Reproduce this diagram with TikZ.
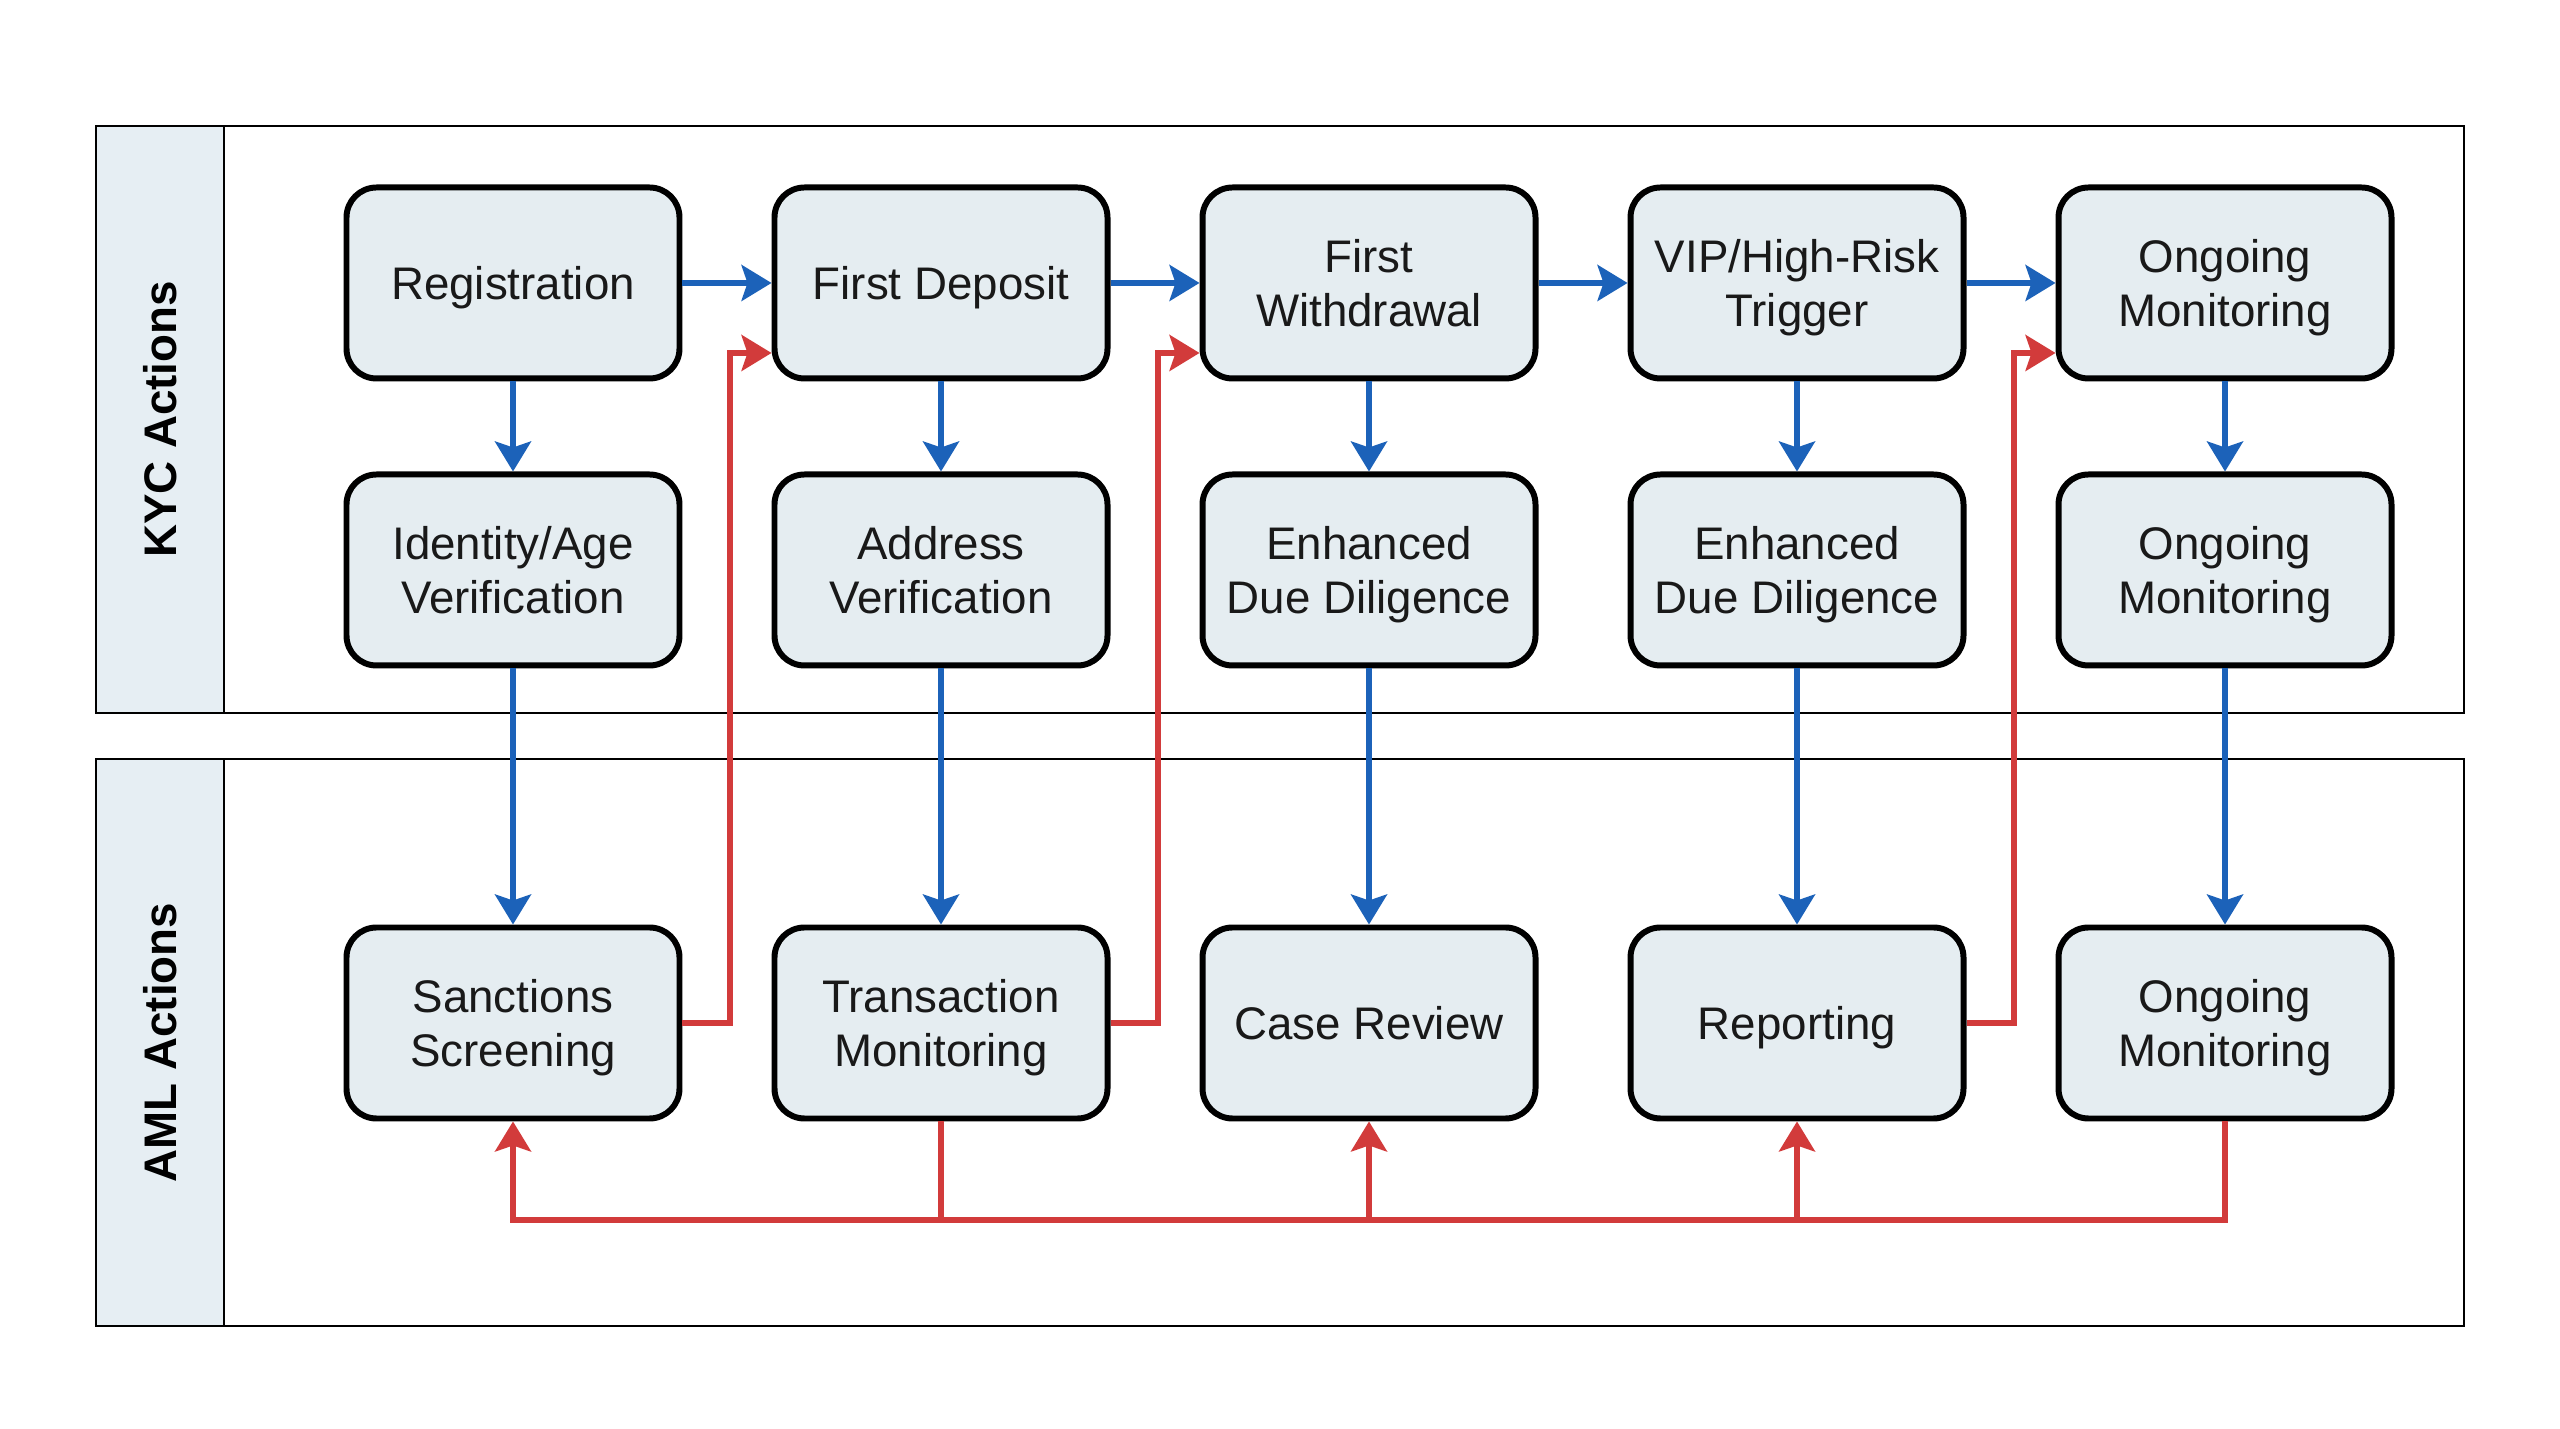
\documentclass[tikz,border=0pt]{standalone}
\usepackage{fontspec}
\setmainfont{Liberation Sans}
\usetikzlibrary{arrows.meta}
\definecolor{boxfill}{HTML}{E5EDF1}
\definecolor{lanefill}{HTML}{E6EEF3}
\definecolor{flowblue}{HTML}{1C62B9}
\definecolor{flowred}{HTML}{D23B3B}

\begin{document}
\begin{tikzpicture}[font=\fontsize{13}{15.5}\selectfont,
  stage/.style={draw=black,line width=1.7pt,fill=boxfill,rounded corners=0.3cm,
    minimum width=3.33cm,minimum height=1.91cm,align=center,inner sep=0pt,
    text depth=0pt,text=black!90},
  tip/.style={-{Stealth[length=0.3cm,width=0.36cm,inset=0.06cm]}},
  bluearrow/.style={flowblue,line width=1.5pt,tip},
  redline/.style={flowred,line width=1.5pt},
  redarrow/.style={redline,tip}]
  \useasboundingbox (0,0) rectangle (25.6,14.29);
  \fill[white] (0,0) rectangle (25.6,14.29);
  % swim lanes
  \foreach \n/\yt/\yb/\lbl in {1/13.03/7.16/KYC Actions, 2/6.70/1.03/AML Actions} {
    \fill[lanefill] (0.96,\yb) rectangle (2.24,\yt);
    \draw[line width=0.7pt] (0.96,\yb) rectangle (24.64,\yt);
    \draw[line width=0.7pt] (2.24,\yb) -- (2.24,\yt);
    \node[rotate=90,font=\fontsize{13}{15}\selectfont\bfseries] (lane\n) at (1.60,{(\yt+\yb)/2}) {\lbl};
  }

  % events
  \node[stage] (ev1) at (5.13,11.46) {Registration};
  \node[stage] (ev2) at (9.41,11.46) {First Deposit};
  \node[stage] (ev3) at (13.69,11.46) {First\\Withdrawal};
  \node[stage] (ev4) at (17.97,11.46) {VIP/High-Risk\\Trigger};
  \node[stage] (ev5) at (22.25,11.46) {Ongoing\\Monitoring};
  % kyc checks
  \node[stage] (kyc1) at (5.13,8.59) {Identity/Age\\Verification};
  \node[stage] (kyc2) at (9.41,8.59) {Address\\Verification};
  \node[stage] (kyc3) at (13.69,8.59) {Enhanced\\Due Diligence};
  \node[stage] (kyc4) at (17.97,8.59) {Enhanced\\Due Diligence};
  \node[stage] (kyc5) at (22.25,8.59) {Ongoing\\Monitoring};
  % aml actions
  \node[stage] (aml1) at (5.13,4.06) {Sanctions\\Screening};
  \node[stage] (aml2) at (9.41,4.06) {Transaction\\Monitoring};
  \node[stage] (aml3) at (13.69,4.06) {Case Review};
  \node[stage] (aml4) at (17.97,4.06) {Reporting};
  \node[stage] (aml5) at (22.25,4.06) {Ongoing\\Monitoring};

  \foreach \i [evaluate=\i as \j using int(\i+1)] in {1,...,4}
    \draw[bluearrow] (ev\i) -- (ev\j);
  \foreach \i in {1,...,5} {
    \draw[bluearrow] (ev\i) -- (kyc\i);
    \draw[bluearrow] (kyc\i) -- (aml\i);
  }

  % feedback into the next event
  \draw[redarrow] (aml1.east) -- ++(0.475,0) |- ([yshift=-0.7cm]ev2.west);
  \draw[redarrow] (aml2.east) -- ++(0.475,0) |- ([yshift=-0.7cm]ev3.west);
  \draw[redarrow] (aml4.east) -- ++(0.475,0) |- ([yshift=-0.7cm]ev5.west);

  % bottom bus
  \coordinate (bus) at (0,2.09);
  \draw[redarrow] (aml5.south) -- (aml5.south |- bus) -| (aml1.south);
  \draw[redline] (aml2.south) -- (aml2.south |- bus);
  \draw[redarrow] (aml3.south |- bus) -- (aml3.south);
  \draw[redarrow] (aml4.south |- bus) -- (aml4.south);
\end{tikzpicture}
\end{document}
